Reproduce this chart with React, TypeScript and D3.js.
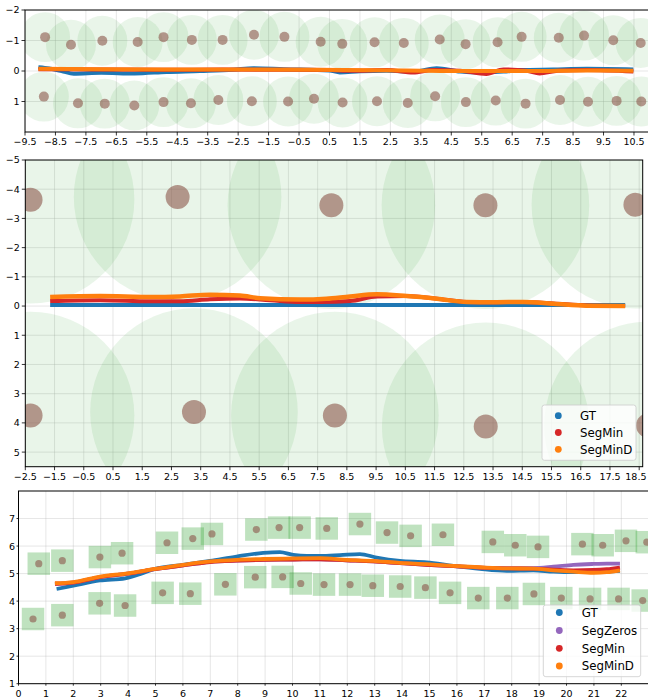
import React from "react";
import * as d3 from "d3";

const FONT = "DejaVu Sans, Verdana, sans-serif";
const COL = {
  gt: "#1f77b4",
  zeros: "#9467bd",
  min: "#d62728",
  minD: "#ff7f0e",
  brown: "#8c564b",
  green: "#2ca02c",
};

// ---------- Panel 1 data ----------
const p1LmX = [
  -8.84, -7.99, -6.96, -5.8, -4.95, -4.02, -3.01, -1.98, -0.98, 0.21, 0.92, 1.98, 2.94, 4.12, 4.97, 6.02, 6.81, 8.03, 8.86, 9.82, 10.72,
  -8.88, -7.76, -6.88, -5.91, -4.95, -4.05, -3.15, -2.05, -0.86, -0.01, 0.93, 2.06, 3.07, 3.97, 4.98, 5.96, 6.94, 8.07, 8.99, 9.93, 10.74,
];
const p1LmY = [
  -1.11, -0.86, -0.99, -0.95, -1.11, -1.02, -1.02, -1.19, -1.12, -0.96, -0.89, -0.94, -0.92, -1.03, -0.88, -0.94, -1.12, -1.09, -1.16, -1.01, -0.92,
  0.84, 1.06, 1.07, 1.13, 1.02, 1.06, 0.95, 0.99, 1.0, 0.91, 1.03, 0.99, 1.05, 0.83, 1.02, 0.97, 1.07, 0.95, 1.01, 0.98, 1.0,
];
const p1GtX = [-9.06, -8.85, -8.7, -8.3, -7.9, -7.0, -5.9, -4.85, -3.75, -2.66, -2.0, -1.0, 0.5, 0.84, 1.5, 2.38, 3.25, 4.02, 4.79, 5.44, 6.21, 6.76, 7.85, 8.95, 10.48];
const p1GtY = [-0.12, -0.1, -0.08, 0.0, 0.09, 0.06, 0.08, 0.03, 0.0, -0.04, -0.09, -0.06, -0.02, 0.05, 0.01, -0.01, 0.02, -0.09, 0.02, 0.05, 0.02, -0.03, -0.05, -0.07, -0.05];
const p1MinX = [-9.06, -7.0, -5.0, -3.0, -1.0, 0.52, 1.2, 2.38, 3.25, 3.9, 4.79, 5.65, 6.21, 6.98, 7.4, 8.0, 8.95, 10.48];
const p1MinY = [-0.06, -0.05, -0.04, -0.05, -0.04, -0.03, -0.01, -0.03, 0.05, -0.03, -0.01, 0.1, -0.05, -0.01, 0.08, -0.01, -0.03, 0.02];
const p1MinDX = [-9.06, -7.0, -5.0, -3.0, 0.0, 3.0, 5.0, 7.0, 9.0, 10.48];
const p1MinDY = [-0.07, -0.06, -0.05, -0.05, -0.04, -0.02, 0.0, 0.0, -0.02, -0.01];
const p1XTicks = d3.range(-9.5, 10.51, 1);
const p1YTicks = [-2, -1, 0, 1];

// ---------- Panel 2 data ----------
const p2LmX = [-2.32, 2.71, 7.97, 13.24, 18.37, -2.32, 3.27, 8.09, 13.25, 18.8];
const p2LmY = [-3.64, -3.73, -3.45, -3.45, -3.47, 3.75, 3.63, 3.75, 4.12, 4.09];
const p2GtX = [-1.65, 2.0, 6.0, 10.0, 14.0, 18.02];
const p2GtY = [-0.04, -0.04, -0.04, -0.04, -0.04, -0.04];
const p2MinX = [-1.65, 0.06, 1.77, 2.79, 3.82, 4.84, 5.87, 6.9, 7.6, 8.61, 9.53, 10.55, 11.58, 12.6, 13.52, 14.54, 15.57, 16.71, 18.02];
const p2MinY = [-0.17, -0.2, -0.16, -0.16, -0.23, -0.26, -0.2, -0.14, -0.14, -0.17, -0.33, -0.34, -0.25, -0.14, -0.13, -0.14, -0.09, -0.02, 0];
const p2MinDX = [-1.65, 0.06, 1.77, 2.79, 3.82, 4.84, 5.53, 6.9, 7.8, 8.61, 9.53, 10.55, 11.58, 12.6, 13.52, 14.54, 15.57, 16.71, 18.02];
const p2MinDY = [-0.31, -0.34, -0.31, -0.33, -0.39, -0.36, -0.27, -0.22, -0.25, -0.33, -0.4, -0.34, -0.25, -0.14, -0.13, -0.14, -0.08, -0.01, 0];
const p2XTicks = d3.range(-2.5, 18.51, 1);
const p2YTicks = d3.range(-5, 5.01, 1);

// ---------- Panel 3 data ----------
const p3LmX = [
  0.74, 1.6, 2.97, 3.78, 5.42, 6.36, 7.06, 8.68, 9.51, 10.26, 11.25, 12.46, 13.45, 14.31, 15.49, 17.31, 18.13, 18.96, 20.58, 21.32, 22.17, 22.93,
  0.53, 1.6, 2.96, 3.89, 5.26, 6.27, 7.55, 8.64, 9.64, 10.3, 11.15, 12.1, 12.93, 13.93, 14.85, 15.75, 16.78, 17.84, 18.81, 19.81, 20.86, 21.9, 22.78,
];
const p3LmY = [
  5.36, 5.47, 5.6, 5.74, 6.12, 6.27, 6.44, 6.6, 6.67, 6.67, 6.64, 6.8, 6.49, 6.37, 6.41, 6.15, 6.03, 5.97, 6.07, 6.03, 6.19, 6.14,
  3.35, 3.49, 3.92, 3.84, 4.3, 4.27, 4.61, 4.87, 4.88, 4.64, 4.6, 4.6, 4.56, 4.53, 4.49, 4.3, 4.11, 4.11, 4.26, 4.11, 4.08, 4.08, 4.02,
];
const p3GtX = [1.39, 2.0, 2.97, 3.89, 4.43, 4.98, 6.01, 6.99, 7.96, 8.93, 9.54, 10.03, 10.52, 11.0, 11.73, 12.46, 13.07, 13.92, 14.9, 15.87, 16.84, 17.82, 18.79, 19.52, 20.25, 20.98, 21.95];
const p3GtY = [4.44, 4.56, 4.75, 4.83, 4.98, 5.17, 5.32, 5.46, 5.62, 5.75, 5.78, 5.68, 5.64, 5.64, 5.67, 5.71, 5.58, 5.46, 5.41, 5.28, 5.17, 5.1, 5.12, 5.07, 5.05, 5.05, 5.1];
const p3SegX = [1.33, 2.0, 2.97, 3.99, 4.98, 6.01, 6.99, 7.96, 8.93, 10.03, 11.0, 11.97, 12.95, 13.92, 14.9, 15.87, 16.84, 17.82, 18.79, 19.52, 20.25, 20.98, 21.47, 21.95];
const p3ZerosY = [4.63, 4.67, 4.87, 5.0, 5.16, 5.3, 5.42, 5.47, 5.5, 5.51, 5.52, 5.48, 5.44, 5.38, 5.32, 5.27, 5.22, 5.2, 5.2, 5.25, 5.32, 5.35, 5.36, 5.36];
const p3MinY = [4.63, 4.67, 4.87, 5.0, 5.16, 5.3, 5.42, 5.47, 5.5, 5.51, 5.52, 5.48, 5.44, 5.38, 5.32, 5.27, 5.22, 5.19, 5.18, 5.14, 5.12, 5.13, 5.16, 5.22];
const p3MinDY = [4.65, 4.69, 4.89, 5.01, 5.17, 5.32, 5.44, 5.5, 5.53, 5.55, 5.56, 5.5, 5.46, 5.39, 5.34, 5.28, 5.23, 5.19, 5.18, 5.12, 5.07, 5.03, 5.05, 5.12];
const p3XTicks = d3.range(0, 23, 1);
const p3YTicks = d3.range(1, 8, 1);

const legend3 = ["GT", "SegMin", "SegMinD"];
const legend4 = ["GT", "SegZeros", "SegMin", "SegMinD"];
const legendColors: Record<string, string> = { GT: COL.gt, SegZeros: COL.zeros, SegMin: COL.min, SegMinD: COL.minD };

const minus = (s: string) => s.replace("-", "\u2212");

type Frame = { left: number; top: number; right: number; bottom: number };
type Sc = d3.ScaleLinear<number, number>;

function Axes(props: {
  id: string;
  frame: Frame;
  x: Sc;
  y: Sc;
  xTicks: number[];
  yTicks: number[];
  xFmt: (v: number) => string;
  yFmt: (v: number) => string;
  tickLen: number;
  yPad: number;
  children?: React.ReactNode;
}) {
  const { id, frame, x, y, xTicks, yTicks, xFmt, yFmt, tickLen, yPad } = props;
  const w = frame.right - frame.left;
  const h = frame.bottom - frame.top;
  return (
    <g>
      <defs>
        <clipPath id={id}>
          <rect x={frame.left} y={frame.top} width={w} height={h} />
        </clipPath>
      </defs>
      <g clipPath={`url(#${id})`}>
        <rect x={frame.left} y={frame.top} width={w} height={h} fill="#ffffff" />
        {xTicks.map((t) => (
          <line key={"gx" + t} x1={x(t)} x2={x(t)} y1={frame.top} y2={frame.bottom} stroke="#b0b0b0" strokeOpacity={0.4} strokeWidth={0.8} />
        ))}
        {yTicks.map((t) => (
          <line key={"gy" + t} x1={frame.left} x2={frame.right} y1={y(t)} y2={y(t)} stroke="#b0b0b0" strokeOpacity={0.4} strokeWidth={0.8} />
        ))}
        {props.children}
      </g>
      <rect x={frame.left} y={frame.top} width={w} height={h} fill="none" stroke="#000" strokeWidth={1} />
      {xTicks.map((t) => {
        const label = xFmt(t);
        const half = label.length * 2.9;
        const lx = Math.min(x(t), 647.5 - half);
        return (
          <g key={"tx" + t}>
            <line x1={x(t)} x2={x(t)} y1={frame.bottom} y2={frame.bottom + tickLen} stroke="#000" strokeWidth={0.8} />
            <text x={lx} y={frame.bottom + 13.2} fontSize={9.5} fontFamily={FONT} textAnchor="middle" fill="#000">
              {label}
            </text>
          </g>
        );
      })}
      {yTicks.map((t) => (
        <g key={"ty" + t}>
          <line x1={frame.left - tickLen} x2={frame.left} y1={y(t)} y2={y(t)} stroke="#000" strokeWidth={0.8} />
          <text x={frame.left - yPad} y={y(t) + 3.45} fontSize={9.5} fontFamily={FONT} textAnchor="end" fill="#000">
            {yFmt(t)}
          </text>
        </g>
      ))}
    </g>
  );
}

function Legend(props: { x: number; y: number; w: number; h: number; items: string[]; rowY: number[]; markX: number; textX: number }) {
  const { x, y, w, h, items, rowY, markX, textX } = props;
  return (
    <g>
      <rect x={x} y={y} width={w} height={h} rx={2.5} fill="#ffffff" fillOpacity={0.8} stroke="#cccccc" strokeWidth={0.8} />
      {items.map((it, i) => (
        <g key={it}>
          <circle cx={markX} cy={rowY[i]} r={3.4} fill={legendColors[it]} />
          <text x={textX} y={rowY[i] + 4.3} fontSize={11.8} fontFamily={FONT} fill="#000">
            {it}
          </text>
        </g>
      ))}
    </g>
  );
}

function pathOf(xs: number[], ys: number[], x: Sc, y: Sc, curve = d3.curveMonotoneX) {
  const pts: [number, number][] = xs.map((v, i) => [v, ys[i]]);
  return d3
    .line<[number, number]>()
    .x((d) => x(d[0]))
    .y((d) => y(d[1]))
    .curve(curve)(pts) as string;
}

export default function App() {
  // Panel 1
  const f1: Frame = { left: 25, top: 10, right: 649.2, bottom: 132 };
  const x1 = d3.scaleLinear().domain([-9.5, 11]).range([f1.left, f1.right]);
  const y1 = d3.scaleLinear().domain([-2, 2]).range([f1.top, f1.bottom]);
  const r1 = x1(0.82) - x1(0);

  // Panel 2
  const f2: Frame = { left: 25.3, top: 160, right: 642.7, bottom: 466.7 };
  const x2 = d3.scaleLinear().domain([-2.5, 18.62]).range([f2.left, f2.right]);
  const y2 = d3.scaleLinear().domain([-5, 5.5]).range([f2.top, f2.bottom]);
  const r2 = x2(3.55) - x2(0);

  // Panel 3
  const f3: Frame = { left: 18.5, top: 491, right: 667.9, bottom: 683.7 };
  const x3 = d3.scaleLinear().domain([0, 23.7]).range([f3.left, f3.right]);
  const y3 = d3.scaleLinear().domain([1, 8]).range([f3.bottom, f3.top]);
  const sq = x3(0.82) - x3(0);

  const fmt1 = (v: number) => minus(d3.format(".1f")(v));
  const fmtI = (v: number) => minus(d3.format("d")(v));

  return (
    <div style={{ position: "absolute", left: 0, top: 0 }}>
      <svg width={648} height={700} viewBox="0 0 648 700" style={{ display: "block", background: "#fff" }}>
        {/* Panel 1 */}
        <Axes id="c1" frame={f1} x={x1} y={y1} xTicks={p1XTicks} yTicks={p1YTicks} xFmt={fmt1} yFmt={fmtI} tickLen={3.5} yPad={5.5}>
          {p1LmX.map((v, i) => (
            <circle key={"g1" + i} cx={x1(v)} cy={y1(p1LmY[i])} r={r1} fill={COL.green} fillOpacity={0.1} />
          ))}
          {p1LmX.map((v, i) => (
            <circle key={"b1" + i} cx={x1(v)} cy={y1(p1LmY[i])} r={5} fill={COL.brown} fillOpacity={0.6} />
          ))}
          <path d={pathOf(p1GtX, p1GtY, x1, y1)} fill="none" stroke={COL.gt} strokeWidth={4} />
          <path d={pathOf(p1MinX, p1MinY, x1, y1)} fill="none" stroke={COL.min} strokeWidth={4} />
          <path d={pathOf(p1MinDX, p1MinDY, x1, y1)} fill="none" stroke={COL.minD} strokeWidth={4} />
        </Axes>

        {/* Panel 2 */}
        <Axes id="c2" frame={f2} x={x2} y={y2} xTicks={p2XTicks} yTicks={p2YTicks} xFmt={fmt1} yFmt={fmtI} tickLen={3.5} yPad={5.5}>
          {p2LmX.map((v, i) => (
            <circle key={"g2" + i} cx={x2(v)} cy={y2(p2LmY[i])} r={r2} fill={COL.green} fillOpacity={0.1} />
          ))}
          {p2LmX.map((v, i) => (
            <circle key={"b2" + i} cx={x2(v)} cy={y2(p2LmY[i])} r={12} fill={COL.brown} fillOpacity={0.6} />
          ))}
          <path d={pathOf(p2GtX, p2GtY, x2, y2)} fill="none" stroke={COL.gt} strokeWidth={4} />
          <path d={pathOf(p2MinX, p2MinY, x2, y2)} fill="none" stroke={COL.min} strokeWidth={4} />
          <path d={pathOf(p2MinDX, p2MinDY, x2, y2)} fill="none" stroke={COL.minD} strokeWidth={4.5} />
        </Axes>
        <Legend x={542} y={405} w={94} h={55.3} items={legend3} rowY={[415.7, 432.5, 449.3]} markX={558.3} textX={580} />

        {/* Panel 3 */}
        <Axes id="c3" frame={f3} x={x3} y={y3} xTicks={p3XTicks} yTicks={p3YTicks} xFmt={fmtI} yFmt={fmtI} tickLen={2} yPad={3.5}>
          {p3LmX.map((v, i) => (
            <rect key={"s3" + i} x={x3(v) - sq / 2} y={y3(p3LmY[i]) - sq / 2} width={sq} height={sq} fill={COL.green} fillOpacity={0.3} />
          ))}
          {p3LmX.map((v, i) => (
            <circle key={"b3" + i} cx={x3(v)} cy={y3(p3LmY[i])} r={3.6} fill={COL.brown} fillOpacity={0.6} />
          ))}
          <path d={pathOf(p3GtX, p3GtY, x3, y3)} fill="none" stroke={COL.gt} strokeWidth={3.8} />
          <path d={pathOf(p3SegX, p3ZerosY, x3, y3)} fill="none" stroke={COL.zeros} strokeWidth={3.8} />
          <path d={pathOf(p3SegX, p3MinY, x3, y3)} fill="none" stroke={COL.min} strokeWidth={3.8} />
          <path d={pathOf(p3SegX, p3MinDY, x3, y3)} fill="none" stroke={COL.minD} strokeWidth={3.8} />
        </Axes>
        <Legend x={543.3} y={605} w={97.4} h={71.7} items={legend4} rowY={[612.5, 630.5, 648.3, 666]} markX={559.3} textX={581.7} />
      </svg>
    </div>
  );
}
